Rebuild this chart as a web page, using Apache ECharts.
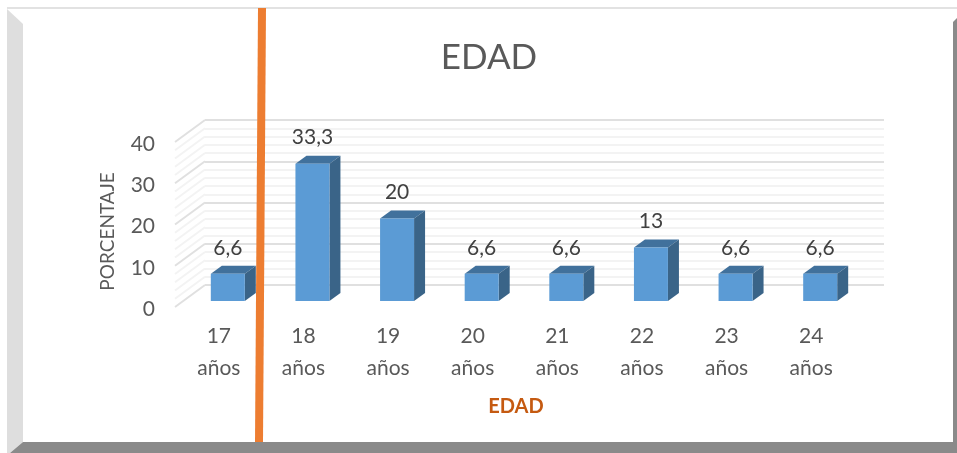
<!DOCTYPE html>
<html><head><meta charset="utf-8">
<style>html,body{margin:0;padding:0;background:#fff}#c{width:957px;height:453px}</style>
<script src="https://cdn.jsdelivr.net/npm/echarts@6/dist/echarts.min.js"></script>
</head><body><div id="c"></div>
<script>
const categories = ['17\naños','18\naños','19\naños','20\naños','21\naños','22\naños','23\naños','24\naños'];
const values = [6.6,33.3,20,6.6,6.6,13,6.6,6.6];
const valueLabels = ['6,6','33,3','20','6,6','6,6','13','6,6','6,6'];
const wallLevels = [0,2,4,6,8,10,12,14,16,18,20,22,24,26,28,30,32,34,36,38,40];
const majorLevels = [0,10,20,30,40];
const FONT = 'Lato, Carlito, "Open Sans", sans-serif';
const W = 957, H = 453;
const DX = 11, DY = 8, BAR_W = 34;

const chart = echarts.init(document.getElementById('c'), null, {renderer:'canvas'});
const sideWall = (p, api) => {
  const v = api.value(0);
  const c = api.coord([0, v]);
  const major = majorLevels.includes(v);
  return {type:'line', shape:{x1:c[0]-30,y1:c[1]+22,x2:c[0],y2:c[1]},
    style:{stroke: major?'#e0e0e0':'#f3f3f3', lineWidth:2}};
};
const bar3d = (p, api) => {
  const i = api.value(0), v = api.value(1);
  const top = api.coord([i, v]), base = api.coord([i, 0]);
  const x0 = top[0]-BAR_W/2, x1 = top[0]+BAR_W/2, y0 = top[1], y1 = base[1];
  return {type:'group', children:[
    {type:'polygon', shape:{points:[[x0,y0],[x1,y0],[x1+DX,y0-DY],[x0+DX,y0-DY]]}, style:{fill:'#41719C'}},
    {type:'polygon', shape:{points:[[x1,y0],[x1+DX,y0-DY],[x1+DX,y1-DY],[x1,y1]]}, style:{fill:'#3A6488'}},
    {type:'rect', shape:{x:x0,y:y0,width:BAR_W,height:y1-y0}, style:{fill:'#5B9BD5'}},
    {type:'text', style:{x:top[0],y:y0-26,text:valueLabels[i],font:'21px '+FONT,fill:'#404040',align:'center',verticalAlign:'middle'}}
  ]};
};
chart.setOption({
  backgroundColor:'#fff',
  animation:false,
  title:{text:'EDAD',left:484,top:35,textAlign:'center',textStyle:{fontFamily:FONT,fontSize:35,fontWeight:'normal',color:'#595959'}},
  grid:[
    {left:205,width:679,top:120,height:165},
    {left:175,width:700,top:144,height:165},
    {left:185.5,width:677,top:136,height:165}
  ],
  xAxis:[
    {gridIndex:0,type:'value',min:0,max:1,show:false},
    {gridIndex:1,type:'value',min:0,max:1,show:false},
    {gridIndex:2,type:'category',data:categories,
      axisLine:{show:false},axisTick:{show:false},
      axisLabel:{margin:18,interval:0,fontFamily:FONT,fontSize:21,lineHeight:32,color:'#595959',padding:[1,18,0,0]},
      name:'EDAD',nameLocation:'middle',nameGap:96,
      nameTextStyle:{fontFamily:FONT,fontSize:20,fontWeight:'bold',color:'#C55A11',padding:[0,16,0,0]}}
  ],
  yAxis:[
    {gridIndex:0,type:'value',min:0,max:40,interval:10,
      axisLine:{show:false},axisTick:{show:false},axisLabel:{show:false},
      splitLine:{show:true,lineStyle:{color:'#e0e0e0',width:2}},
      minorTick:{show:false,splitNumber:5},
      minorSplitLine:{show:true,lineStyle:{color:'#f3f3f3',width:2}}},
    {gridIndex:1,type:'value',min:0,max:40,interval:10,
      axisLine:{show:false},axisTick:{show:false},splitLine:{show:false},
      axisLabel:{margin:20,fontFamily:FONT,fontSize:21,color:'#595959'},
      name:'PORCENTAJE',nameLocation:'middle',nameGap:58,nameRotate:90,
      nameTextStyle:{fontFamily:FONT,fontSize:19,fontWeight:'normal',color:'#595959',padding:[0,10,0,0]}},
    {gridIndex:2,type:'value',min:0,max:40,interval:10,show:false,splitLine:{show:false}}
  ],
  series:[
    {type:'custom',xAxisIndex:0,yAxisIndex:0,renderItem:sideWall,data:wallLevels.map(v=>[v]),encode:{y:0},silent:true,clip:false},
    {type:'custom',xAxisIndex:2,yAxisIndex:2,renderItem:bar3d,data:values.map((v,i)=>[i,v]),encode:{x:0,y:1},clip:false,z:5}
  ],
  graphic:[
    {type:'polygon',z:0,shape:{points:[[7,9],[23,24],[23,442],[10,453],[7,453]]},style:{fill:'#dedede'}},
    {type:'line',z:0,shape:{x1:7,y1:8,x2:W,y2:8},style:{stroke:'#e2e2e2',lineWidth:2}},
    {type:'polygon',z:0,shape:{points:[[23,442],[953,442],[W,438],[W,H],[10,H]]},style:{fill:'#8a8a8a'}},
    {type:'polygon',z:0,shape:{points:[[953,22],[W,18],[W,H],[953,442]]},style:{fill:'#8a8a8a'}},
    {type:'line',z:100,shape:{x1:262,y1:8,x2:259,y2:442},style:{stroke:'#ED7D31',lineWidth:8}}
  ]
});
</script></body></html>
